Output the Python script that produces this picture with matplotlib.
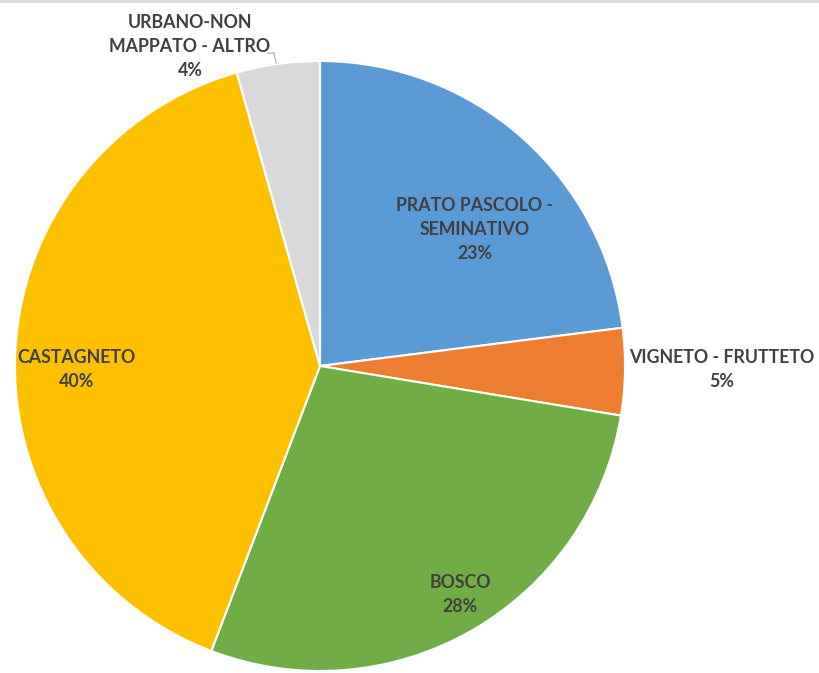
import matplotlib
matplotlib.use("Agg")
import matplotlib.pyplot as plt

categories = ["PRATO PASCOLO -\nSEMINATIVO", "VIGNETO - FRUTTETO", "BOSCO", "CASTAGNETO", "URBANO-NON\nMAPPATO - ALTRO"]
values = [23.0, 4.6, 28.2, 39.8, 4.4]
colors = ["#5B9BD5", "#ED7D31", "#70AD47", "#FFC000", "#D9D9D9"]

W, H = 820, 673
fig = plt.figure(figsize=(W / 100, H / 100), dpi=100)
ax = fig.add_axes([0, 0, 1, 1])

cx, cy, r = 320, 366, 305
wedges, _ = ax.pie(values, colors=colors, startangle=90, counterclock=False,
                   center=(cx, H - cy), radius=r, frame=True,
                   wedgeprops=dict(edgecolor="white", linewidth=1.5))
ax.set_xlim(0, W)
ax.set_ylim(0, H)
ax.axis("off")

label_pos = [(475, 230), (722, 370), (460, 594), (77, 370), (190, 46)]
total = sum(values)
for cat, v, (lx, ly) in zip(categories, values, label_pos):
    ax.text(lx, H - ly, f"{cat}\n{round(v / total * 100)}%", ha="center", va="center",
            fontsize=12.8, fontweight="bold", family=["Lato", "DejaVu Sans"],
            color="#404040", linespacing=1.5)

# leader line for the small slice
ax.plot([268, 274, 276], [H - 53, H - 53, H - 63], color="#A6A6A6", lw=0.8)
# top border
ax.plot([0, W], [H - 0.5, H - 0.5], color="#D9D9D9", lw=2)

fig.savefig("out.png", dpi=100)
